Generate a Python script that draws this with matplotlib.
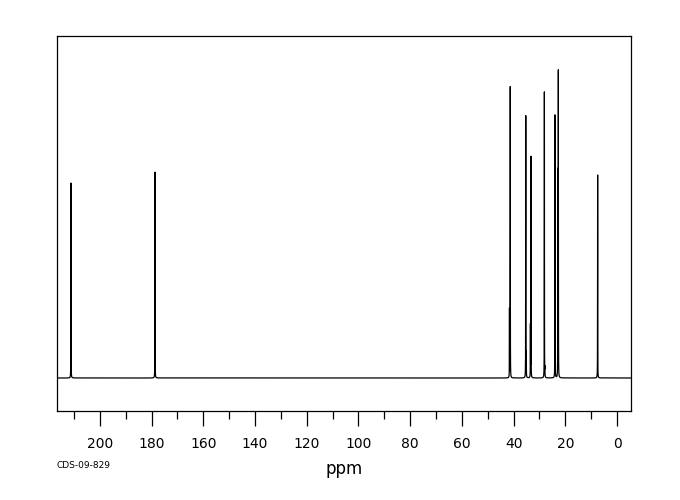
import matplotlib
matplotlib.use("Agg")
import matplotlib.pyplot as plt
import numpy as np

# peak positions (ppm) and heights (arbitrary units)
shifts = [211.2, 178.7, 41.3, 41.6, 35.3, 35.1, 33.3, 33.5, 28.1, 27.9, 24.0, 22.7, 22.9, 7.5]
heights = [195, 206, 291, 68, 262, 23, 221, 51, 286, 8, 263, 305, 205, 203]

xmin, xmax = -5.4, 216.6
major_ticks = [0, 20, 40, 60, 80, 100, 120, 140, 160, 180, 200]


def spectrum(x, width=0.025):
    y = np.zeros_like(x)
    for c, h in zip(shifts, heights):
        y += h * width ** 2 / ((x - c) ** 2 + width ** 2)
    return y


def main():
    x = np.linspace(xmin, xmax, 120000)
    y = spectrum(x)

    fig = plt.figure(figsize=(6.8, 5.0), dpi=100)
    ax = fig.add_axes([57 / 680, 89 / 500, 574 / 680, 375 / 500])
    ax.plot(x, y, color="black", lw=0.9)

    ax.set_xlim(xmax, xmin)
    ax.set_ylim(-33, 342)
    ax.set_yticks([])
    ax.set_xticks(major_ticks)
    ax.set_xticks(np.arange(10, 211, 20), minor=True)
    ax.tick_params(axis="x", which="major", length=11, width=0.9,
                   labelsize=10, pad=8, colors="black")
    ax.tick_params(axis="x", which="minor", length=6, width=0.9)
    for s in ax.spines.values():
        s.set_linewidth(0.9)

    ax.set_xlabel("ppm", fontsize=12, labelpad=6)
    fig.text(57 / 680, 1 - 465 / 500, "CDS-09-829", fontsize=6.5,
             ha="left", va="center")

    fig.savefig("out.png", dpi=100, facecolor="white")
    plt.close(fig)


if __name__ == "__main__":
    main()
